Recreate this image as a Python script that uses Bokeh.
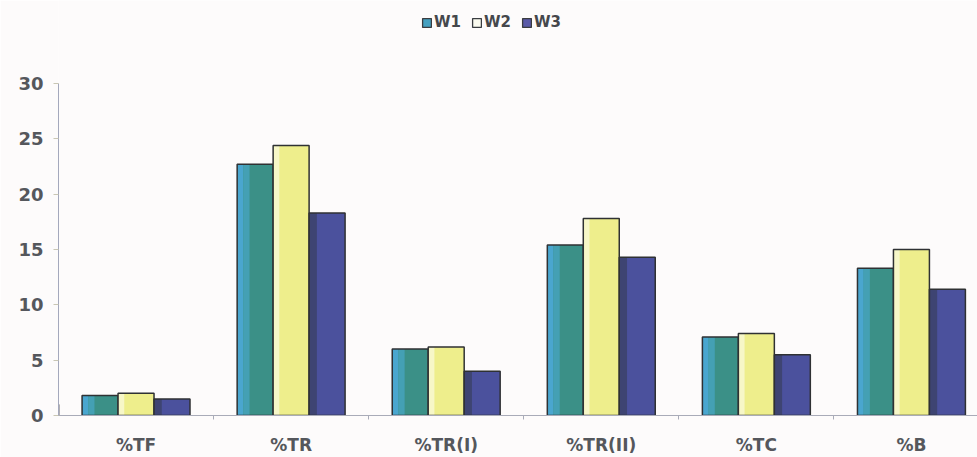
from bokeh.plotting import figure
from bokeh.models import (ColumnDataSource, Range1d, FixedTicker, Legend, LegendItem)
from bokeh.transform import dodge
from bokeh.embed import file_html
from bokeh.resources import INLINE

# Categories and the three series (percentages)
categories = ["%TF", "%TR", "%TR(I)", "%TR(II)", "%TC", "%B"]
w1 = [1.8, 22.7, 6.0, 15.4, 7.1, 13.3]
w2 = [2.0, 24.4, 6.2, 17.8, 7.4, 15.0]
w3 = [1.5, 18.3, 4.0, 14.3, 5.5, 11.4]
y_ticks = [0, 5, 10, 15, 20, 25, 30]

xs = list(range(len(categories)))
src = ColumnDataSource(dict(x=xs, w1=w1, w2=w2, w3=w3))

TEXT = "#55575c"
FONT = "DejaVu Sans"

# the frame runs up to the top edge so the legend can sit inside it;
# the y axis line itself is bounded to 0..30
p = figure(frame_width=919, frame_height=415,
           min_border_left=58, min_border_right=0,
           min_border_top=0, min_border_bottom=42,
           x_range=Range1d(-0.5, 5.426), y_range=Range1d(0, 37.5),
           output_backend="svg", toolbar_location=None,
           background_fill_color="#fdfbfb", border_fill_color="#fdfbfb")

p.grid.visible = False
p.outline_line_color = None

bw = 0.232
series = [
    ("w1", -bw, "#3b9087", [("#4aa6cf", 0.04), ("#44a0b4", 0.04)], "W1", "#45a0c0"),
    ("w2", 0.0, "#eeee8c", [("#f7f7c8", 0.04)], "W2", "#fbfbf0"),
    ("w3", bw, "#4b519d", [("#3e4472", 0.05)], "W3", "#5a5aa8"),
]

items = []
# swatch source placed outside the visible x range
key_src = ColumnDataSource(dict(x=[-10], top=[1]))
for col, off, color, strips, label, key_color in series:
    p.vbar(x=dodge("x", off, range=p.x_range), top=col, width=bw,
           bottom=0, fill_color=color, line_color=None, source=src)
    # shaded strips on the left side of each bar
    left = off - bw / 2
    for scol, sw in strips:
        p.vbar(x=dodge("x", left + sw / 2, range=p.x_range), top=col, width=sw,
               bottom=0, fill_color=scol, line_color=None, source=src)
        left += sw
    p.vbar(x=dodge("x", off, range=p.x_range), top=col, width=bw,
           bottom=0, fill_alpha=0.0,
           line_color="#2f3133", line_width=1.5, source=src)
    # legend key swatch
    key = p.vbar(x="x", top="top", width=0.1, fill_color=key_color,
                 line_color="#3a3c40", line_width=1.3, source=key_src)
    items.append(LegendItem(label=label, renderers=[key]))

legend = Legend(items=items, orientation="horizontal",
                location=(363, 384),
                label_text_font=FONT, label_text_font_style="bold",
                label_text_font_size="15px", label_text_color="#45474c",
                glyph_width=11, glyph_height=11, label_standoff=2,
                spacing=10, padding=2, margin=0, border_line_color=None,
                background_fill_alpha=0.0)
p.add_layout(legend, "center")

# y axis
ya = p.yaxis[0]
ya.ticker = FixedTicker(ticks=y_ticks)
ya.bounds = (0, 30)
ya.axis_line_color = "#a4a8bc"
ya.major_tick_line_color = "#c9c6b4"
ya.major_tick_out = 5
ya.major_tick_in = 0
ya.minor_tick_line_color = None
ya.major_label_standoff = 10
ya.major_label_text_font = FONT
ya.major_label_text_font_style = "bold"
ya.major_label_text_font_size = "18px"
ya.major_label_text_color = TEXT

# x axis: labels at category centres, small ticks between categories
xa = p.xaxis[0]
xa.ticker = FixedTicker(ticks=xs, minor_ticks=[i + 0.5 for i in xs[:-1]])
xa.major_label_overrides = {i: c for i, c in zip(xs, categories)}
xa.axis_line_color = "#a9abb8"
xa.major_tick_line_color = None
xa.major_tick_out = 0
xa.major_tick_in = 0
xa.minor_tick_line_color = "#a9abb8"
xa.minor_tick_out = 4
xa.minor_tick_in = 0
xa.major_label_standoff = 15
xa.major_label_text_font = FONT
xa.major_label_text_font_style = "bold"
xa.major_label_text_font_size = "17px"
xa.major_label_text_color = TEXT

open("out.html", "w").write(file_html(p, INLINE))
